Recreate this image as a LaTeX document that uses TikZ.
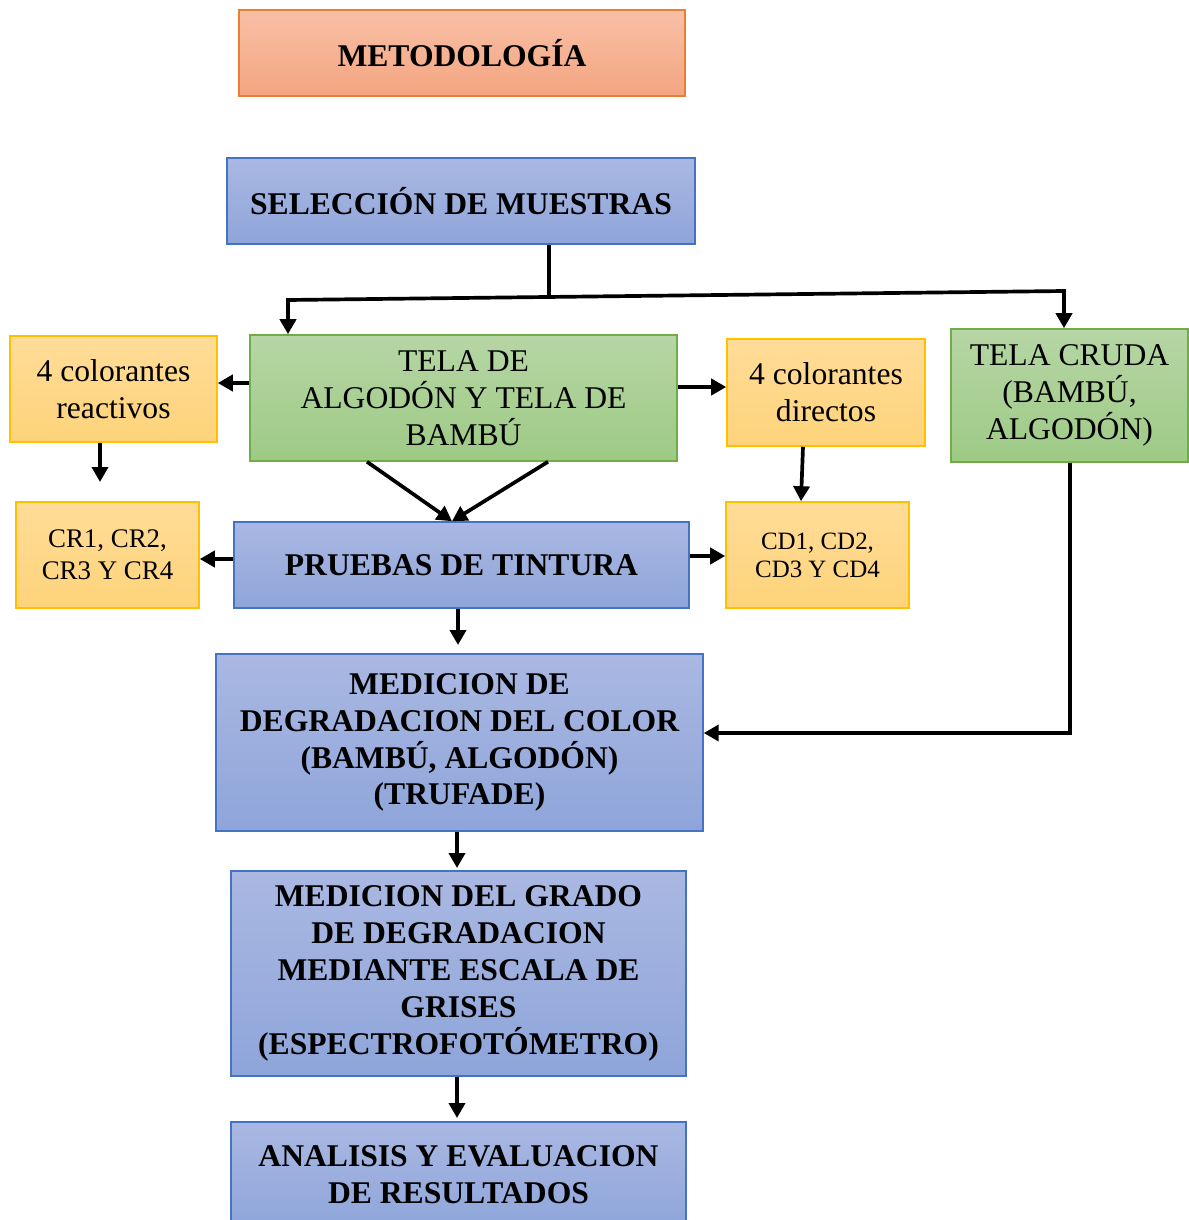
\documentclass[tikz,border=0pt]{standalone}
\usepackage{fontspec}
\setmainfont{Liberation Serif}
\usetikzlibrary{arrows.meta}

\definecolor{azulborde}{RGB}{68,114,196}
\definecolor{azularriba}{RGB}{170,184,226}
\definecolor{azulabajo}{RGB}{142,165,218}
\definecolor{verdeborde}{RGB}{112,173,71}
\definecolor{verdearriba}{RGB}{182,214,165}
\definecolor{verdeabajo}{RGB}{158,202,133}
\definecolor{naranjaborde}{RGB}{237,125,49}
\definecolor{naranjaarriba}{RGB}{248,192,166}
\definecolor{naranjaabajo}{RGB}{244,165,129}
\definecolor{amarilloborde}{RGB}{255,192,0}
\definecolor{amarilloarriba}{RGB}{255,220,152}
\definecolor{amarilloabajo}{RGB}{254,211,122}

\begin{document}
\begin{tikzpicture}[x=0.02cm, y=-0.02cm,
  >={Triangle[length=0.3cm, width=0.32cm]},
  caja/.style={draw, line width=0.9pt, inner sep=0pt, align=center},
  azul/.style={caja, draw=azulborde, top color=azularriba, bottom color=azulabajo,
    font=\fontsize{18}{21}\selectfont\bfseries},
  verde/.style={caja, draw=verdeborde, top color=verdearriba, bottom color=verdeabajo,
    font=\fontsize{18}{21}\selectfont},
  amarillo/.style={caja, draw=amarilloborde, top color=amarilloarriba, bottom color=amarilloabajo,
    font=\fontsize{18}{21}\selectfont},
  linea/.style={line width=2.1pt}]

\useasboundingbox (0,0) rectangle (1189,1220);

\node[caja, draw=naranjaborde, top color=naranjaarriba, bottom color=naranjaabajo,
  font=\fontsize{18}{21}\selectfont\bfseries, minimum width=8.92cm, minimum height=1.72cm]
  (meto) at (462,53) {METODOLOGÍA};

\node[azul, minimum width=9.36cm, minimum height=1.72cm] (sel) at (461,201) {SELECCIÓN DE MUESTRAS};

\node[verde, minimum width=8.54cm, minimum height=2.52cm] (tela) at (463.5,398) {TELA DE\\ALGODÓN Y TELA DE\\BAMBÚ};
\node[amarillo, minimum width=4.14cm, minimum height=2.12cm] (react) at (113.5,389) {4 colorantes\\reactivos};
\node[amarillo, minimum width=3.96cm, minimum height=2.14cm] (direc) at (826,392.5) {4 colorantes\\directos};
\node[verde, minimum width=4.74cm, minimum height=2.66cm] (cruda) at (1069.5,395.5) {TELA CRUDA\\(BAMBÚ,\\ALGODÓN)};

\node[amarillo, font=\fontsize{15.3}{18.1}\selectfont, minimum width=3.66cm, minimum height=2.12cm] (cr) at (107.5,555) {CR1, CR2,\\CR3 Y CR4};
\node[azul, minimum width=9.10cm, minimum height=1.72cm] (prueb) at (461.5,565) {PRUEBAS DE TINTURA};
\node[amarillo, font=\fontsize{14.2}{15.9}\selectfont, minimum width=3.66cm, minimum height=2.12cm] (cd) at (817.5,555) {CD1, CD2,\\CD3 Y CD4};

\node[azul, minimum width=9.74cm, minimum height=3.54cm] (med) at (459.5,742.5) {MEDICION DE\\DEGRADACION DEL COLOR\\(BAMBÚ, ALGODÓN)\\(TRUFADE)};
\node[azul, minimum width=9.10cm, minimum height=4.10cm] (grado) at (458.5,973.5) {MEDICION DEL GRADO\\DE DEGRADACION\\MEDIANTE ESCALA DE\\GRISES\\(ESPECTROFOTÓMETRO)};
\node[azul, minimum width=9.10cm, minimum height=2.12cm] (anal) at (458.5,1175) {ANALISIS Y EVALUACION\\DE RESULTADOS};

% reparto de muestras
\draw[linea] (sel.south -| 549,0) -- (549,297);
\draw[<->, linea] (tela.north -| 288,0) -- (288,300) -- (1064,291) -- (cruda.north -| 1064,0);

% colorantes
\draw[->, linea] (tela.west |- 0,383) -- (react.east |- 0,383);
\draw[->, linea] (tela.east |- 0,387) -- (direc.west |- 0,387);
\draw[->, linea] (react.south -| 100,0) -- (100,482);
\draw[->, linea] (direc.south -| 803,0) -- (cd.north -| 801,0);

\draw[->, linea] (tela.south -| 367,0) -- (prueb.north -| 452,0);
\draw[->, linea] (tela.south -| 548,0) -- (prueb.north -| 452,0);

\draw[->, linea] (prueb.west |- 0,559) -- (cr.east |- 0,559);
\draw[->, linea] (prueb.east |- 0,556) -- (cd.west |- 0,556);

% mediciones
\draw[->, linea] (prueb.south -| 458,0) -- (458,645);
\draw[->, linea] (cruda.south -| 1070,0) |- (med.east |- 0,733);
\draw[->, linea] (med.south -| 457,0) -- (457,868);
\draw[->, linea] (grado.south -| 457,0) -- (457,1118);

\end{tikzpicture}
\end{document}
